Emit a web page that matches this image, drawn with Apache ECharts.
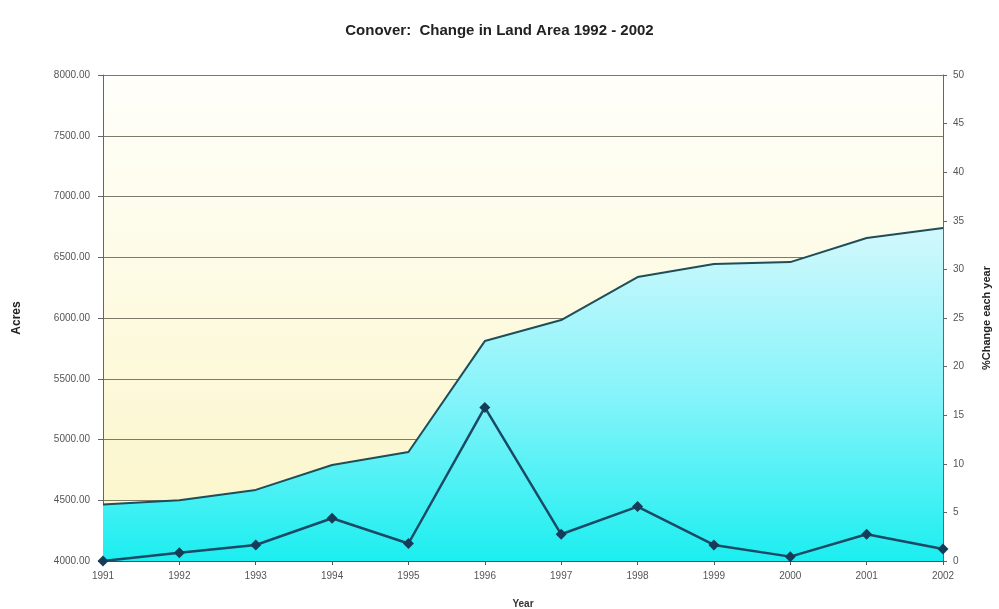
<!DOCTYPE html>
<html>
<head>
<meta charset="utf-8">
<script src="https://cdn.jsdelivr.net/npm/echarts@6/dist/echarts.min.js"></script>
<style>
html,body{margin:0;padding:0;background:#fff;}
#chart{width:999px;height:609px;}
</style>
</head>
<body>
<div id="chart"></div>
<script>
var years = ['1991','1992','1993','1994','1995','1996','1997','1998','1999','2000','2001','2002'];
var acres = [4465, 4500, 4585, 4790, 4897, 5810, 5983, 6337, 6444, 6460, 6658, 6740];
var pctChange = [0, 0.86, 1.65, 4.4, 1.8, 15.8, 2.75, 5.6, 1.65, 0.45, 2.75, 1.23];

var chart = echarts.init(document.getElementById('chart'), null, {renderer:'canvas'});
var labelStyle = {color:'#555', fontSize:10, fontFamily:'Liberation Sans, Arial, sans-serif'};
chart.setOption({
  backgroundColor:'#ffffff',
  animation:false,
  title:{
    text:'Conover:  Change in Land Area 1992 - 2002',
    left:'center', top:18,
    textStyle:{fontSize:15, fontWeight:'bold', color:'#222', fontFamily:'Liberation Sans, Arial, sans-serif'}
  },
  grid:{
    left:103, right:56, top:75, bottom:48,
    outerBoundsMode:'none',
    show:true, borderWidth:0,
    backgroundColor:{type:'linear', x:0, y:0, x2:0, y2:1, colorStops:[
      {offset:0, color:'#fffffb'},{offset:1, color:'#fbf5c6'}]}
  },
  xAxis:{
    type:'category', data:years, boundaryGap:false,
    name:'Year', nameLocation:'middle', nameGap:38,
    nameTextStyle:{fontSize:10, fontWeight:'bold', color:'#333', fontFamily:'Liberation Sans, Arial, sans-serif'},
    axisLine:{lineStyle:{color:'#245a64', width:2}},
    axisTick:{show:true, alignWithLabel:true, length:4, inside:false, lineStyle:{color:'#555'}},
    axisLabel:Object.assign({margin:10}, labelStyle),
    splitLine:{show:false}
  },
  yAxis:[{
    type:'value', min:4000, max:8000, interval:500, position:'left',
    name:'Acres', nameLocation:'middle', nameGap:80, nameRotate:90,
    nameTextStyle:{fontSize:12, fontWeight:'bold', color:'#222', fontFamily:'Liberation Sans, Arial, sans-serif'},
    axisLine:{show:true, lineStyle:{color:'#666'}},
    axisTick:{show:true, length:5, lineStyle:{color:'#666'}},
    axisLabel:Object.assign({margin:13, formatter:function(v){return v.toFixed(2);}}, labelStyle),
    splitLine:{show:true, lineStyle:{color:'#7d7a6c', width:1}}
  },{
    type:'value', min:0, max:50, interval:5, position:'right',
    name:'%Change each year', nameLocation:'middle', nameGap:38, nameRotate:90,
    nameTextStyle:{fontSize:11, fontWeight:'bold', color:'#222', fontFamily:'Liberation Sans, Arial, sans-serif'},
    axisLine:{show:true, lineStyle:{color:'#666'}},
    axisTick:{show:true, length:4, lineStyle:{color:'#666'}},
    axisLabel:Object.assign({margin:10}, labelStyle),
    splitLine:{show:false}
  }],
  series:[{
    name:'Acres', type:'line', data:acres, yAxisIndex:0,
    symbol:'none',
    lineStyle:{color:'#1f4d58', width:2},
    areaStyle:{
      origin:'start',
      color:{type:'linear', x:0, y:0, x2:0, y2:1, colorStops:[
        {offset:0, color:'#d2f8fc'},{offset:0.5, color:'#86f4fa'},{offset:1, color:'#1ceef0'}]},
      opacity:1
    },
    z:1
  },{
    name:'%Change', type:'line', data:pctChange, yAxisIndex:1,
    symbol:'diamond', symbolSize:11,
    itemStyle:{color:'#163c58'},
    lineStyle:{color:'#1b4a66', width:2.5},
    z:3
  }]
});
</script>
</body>
</html>
